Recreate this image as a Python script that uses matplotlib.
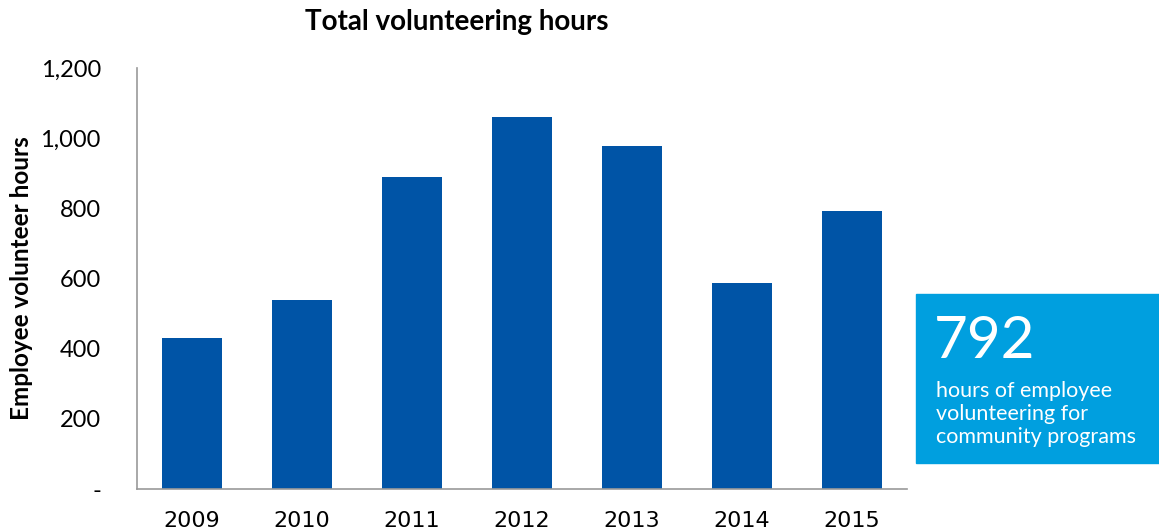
import matplotlib
matplotlib.use("Agg")
import matplotlib.pyplot as plt
from matplotlib.patches import Rectangle

years = ["2009", "2010", "2011", "2012", "2013", "2014", "2015"]
hours = [430, 538, 889, 1060, 977, 587, 792]
yticks = [0, 200, 400, 600, 800, 1000, 1200]
ytick_labels = ["-", "200", "400", "600", "800", "1,000", "1,200"]

plt.rcParams["font.family"] = ["Lato", "DejaVu Sans"]

fig = plt.figure(figsize=(11.59, 5.30), dpi=100)
ax = fig.add_axes([137 / 1159, 41 / 530, 770 / 1159, 421 / 530])

ax.bar(range(len(years)), hours, width=0.54, color="#0054a6")
ax.set_xlim(-0.5, len(years) - 0.5)
ax.set_ylim(0, 1200)

ax.set_yticks(yticks)
ax.set_yticklabels(ytick_labels, fontsize=17)
ax.set_xticks(range(len(years)))
ax.set_xticklabels(years, fontsize=16, family=["Liberation Sans Narrow", "DejaVu Sans"])
ax.tick_params(axis="both", length=0, colors="black")
ax.tick_params(axis="y", pad=26)
ax.tick_params(axis="x", pad=16)

for s in ["top", "right"]:
    ax.spines[s].set_visible(False)
for s in ["left", "bottom"]:
    ax.spines[s].set_color("#999999")
    ax.spines[s].set_linewidth(1.2)

fig.text(22 / 1159, 1 - 278 / 530, "Employee volunteer hours", fontsize=17.5,
         fontweight="bold", rotation=90, ha="center", va="center")
fig.text(457 / 1159, 1 - 22 / 530, "Total volunteering hours", fontsize=20,
         fontweight="bold", ha="center", va="center")

# callout box
fig.patches.append(Rectangle((916 / 1159, 67 / 530), 243 / 1159, 169 / 530,
                             transform=fig.transFigure, color="#009fdf", zorder=0))
fig.text(934 / 1159, 1 - 342 / 530, "792", fontsize=42, color="white",
         va="center", ha="left")
fig.text(936 / 1159, 1 - 414 / 530,
         "hours of employee\nvolunteering for\ncommunity programs",
         fontsize=15.5, color="white", va="center", ha="left", linespacing=1.2)

fig.savefig("out.png", dpi=100)
